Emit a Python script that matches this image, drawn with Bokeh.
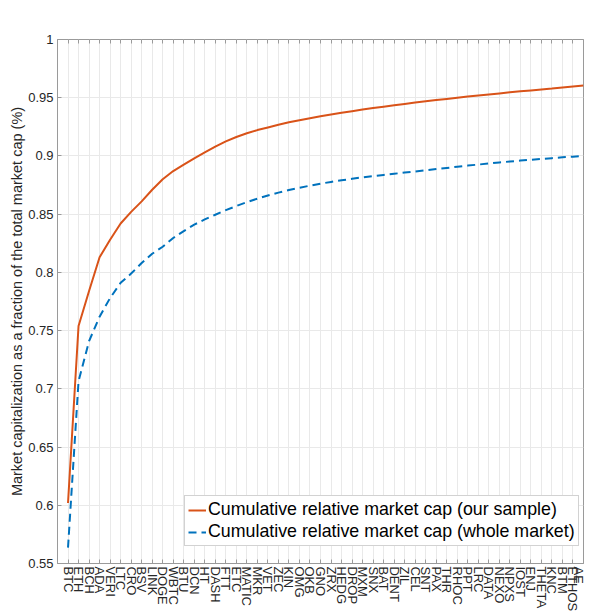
import math
from bokeh.plotting import figure
from bokeh.models import (Range1d, FixedTicker, CustomJSTickFormatter, Legend,
                          LegendItem, ColumnDataSource, LinearAxis)
from bokeh.embed import file_html
from bokeh.resources import INLINE

coins = ["BTC", "ETH", "BCH", "ADA", "VERI", "LTC", "CRO", "BSV", "LINK", "DOGE",
         "WBTC", "BTU", "DCN", "HT", "DASH", "FTT", "ETC", "MATIC", "MKR", "VET",
         "ZEC", "KIN", "OMG", "OKB", "GNO", "ZRX", "HEDG", "DROP", "MXM", "SNX",
         "BAT", "DENT", "ZIL", "CEL", "SNT", "PAX", "THR", "RHOC", "PPT", "LRC",
         "DATA", "NEXO", "NPXS", "IOST", "ENJ", "THETA", "KNC", "BTM", "ETHOS", "AE"]

sample_cum = [0.602, 0.754, 0.784, 0.813, 0.828, 0.842, 0.852, 0.861, 0.871, 0.880,
              0.887, 0.8925, 0.898, 0.903, 0.908, 0.9125, 0.9163, 0.9195, 0.9222, 0.9245,
              0.9268, 0.9289, 0.9307, 0.9324, 0.934, 0.9355, 0.937, 0.9384, 0.9398, 0.9411,
              0.9423, 0.9435, 0.9447, 0.9458, 0.9469, 0.948, 0.949, 0.950, 0.951, 0.9519,
              0.9528, 0.9537, 0.9546, 0.9555, 0.9563, 0.9571, 0.9579, 0.9588, 0.9596, 0.9604]

market_cum = [0.5636, 0.7065, 0.741, 0.762, 0.778, 0.791, 0.799, 0.808, 0.816, 0.822,
              0.8295, 0.8355, 0.841, 0.8455, 0.8495, 0.8535, 0.857, 0.8603, 0.8633, 0.866,
              0.8685, 0.8707, 0.8727, 0.8745, 0.8762, 0.8777, 0.8791, 0.8804, 0.8816, 0.8827,
              0.8837, 0.8847, 0.8857, 0.8867, 0.8877, 0.8887, 0.8897, 0.8907, 0.8917, 0.8926,
              0.8935, 0.8944, 0.8952, 0.896, 0.8967, 0.8974, 0.8981, 0.8988, 0.8994, 0.900]

y_ticks = [0.55, 0.6, 0.65, 0.7, 0.75, 0.8, 0.85, 0.9, 0.95, 1.0]

x_pos = list(range(1, len(coins) + 1))
src = ColumnDataSource(dict(x=x_pos, sample=sample_cum, market=market_cum))

FONT = "Liberation Sans"
TXT = "#262626"
FRAME = "#9a9a9a"

p = figure(width=585, height=614, output_backend="svg", toolbar_location=None,
           x_range=Range1d(0, len(coins)), y_range=Range1d(0.55, 1.0),
           min_border_left=57, min_border_right=2, min_border_top=39, min_border_bottom=51,
           background_fill_color="white", border_fill_color="white")

p.outline_line_color = FRAME
p.outline_line_width = 1

# x axis
p.xaxis.ticker = FixedTicker(ticks=x_pos)
p.xaxis.major_label_overrides = {i: c for i, c in zip(x_pos, coins)}
p.xaxis.major_label_orientation = -math.pi / 2
p.xaxis.major_label_text_font = FONT
p.xaxis.major_label_text_font_size = "13px"
p.xaxis.major_label_text_color = TXT
p.xaxis.major_label_standoff = 3
p.xaxis.major_tick_in = 4
p.xaxis.major_tick_out = 0
p.xaxis.minor_tick_line_color = None
p.xaxis.axis_line_color = FRAME
p.xaxis.major_tick_line_color = FRAME

# y axis
p.yaxis.ticker = FixedTicker(ticks=y_ticks)
p.yaxis.formatter = CustomJSTickFormatter(
    code="return tick.toFixed(2).replace(/0$/, '').replace(/\\.0$/, '');")
p.yaxis.major_label_text_font = FONT
p.yaxis.major_label_text_font_size = "13px"
p.yaxis.major_label_text_color = TXT
p.yaxis.major_label_standoff = 4
p.yaxis.major_tick_in = 4
p.yaxis.major_tick_out = 0
p.yaxis.minor_tick_line_color = None
p.yaxis.axis_line_color = FRAME
p.yaxis.major_tick_line_color = FRAME
p.yaxis.axis_label = "Market capitalization as a fraction of the total market cap (%)"
p.yaxis.axis_label_text_font = FONT
p.yaxis.axis_label_text_font_size = "14.5px"
p.yaxis.axis_label_text_font_style = "normal"
p.yaxis.axis_label_text_color = TXT
p.yaxis.axis_label_standoff = 0

# top ticks (box), no labels
top_axis = LinearAxis(ticker=FixedTicker(ticks=x_pos),
                      formatter=CustomJSTickFormatter(code="return '';"),
                      major_label_standoff=0, major_tick_in=4, major_tick_out=0,
                      major_tick_line_color=FRAME, minor_tick_line_color=None,
                      axis_line_color=None)
p.add_layout(top_axis, "above")

p.xgrid.ticker = FixedTicker(ticks=x_pos)
p.xgrid.grid_line_color = "#e9e9e9"
p.ygrid.grid_line_color = "#e9e9e9"

r1 = p.line(x="x", y="sample", source=src, line_color="#D95319", line_width=2)
r2 = p.line(x="x", y="market", source=src, line_color="#0072BD", line_width=2,
            line_dash="8 5")

legend = Legend(items=[
    LegendItem(label="Cumulative relative market cap (our sample)", renderers=[r1]),
    LegendItem(label="Cumulative relative market cap (whole market)", renderers=[r2]),
], location=(127, 17))
legend.label_text_font = FONT
legend.label_text_font_size = "17.8px"
legend.label_text_color = "#000000"
legend.border_line_color = "#a6a6a6"
legend.border_line_width = 1
legend.background_fill_color = "white"
legend.background_fill_alpha = 1
legend.padding = 3
legend.spacing = 1
legend.margin = 0
legend.glyph_width = 18
legend.glyph_height = 20
legend.label_height = 20
legend.label_standoff = 2
p.add_layout(legend)

open("out.html", "w").write(file_html(p, INLINE))
